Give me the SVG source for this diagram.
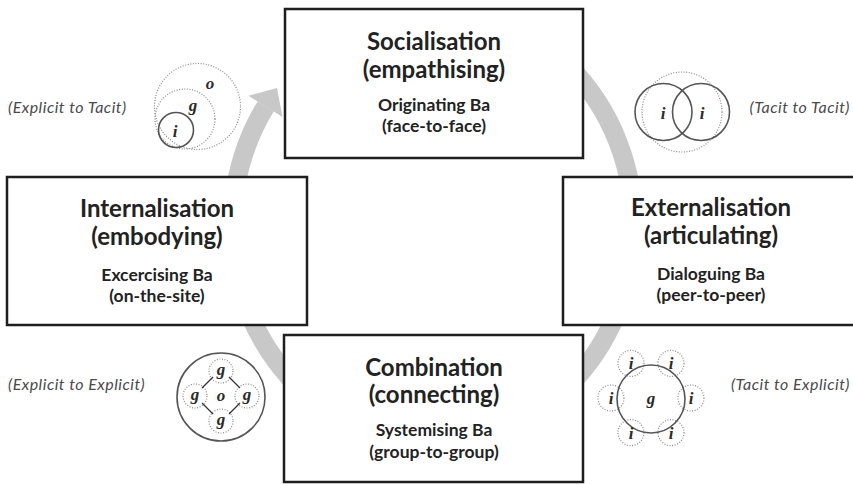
<svg xmlns="http://www.w3.org/2000/svg" width="853" height="484" viewBox="0 0 853 484">
<style>
.box{fill:#fff;stroke:#1e1e1e;stroke-width:2.5}
.t1{font-family:Lato,"Open Sans",sans-serif;font-weight:700;font-size:24px;fill:#222;text-anchor:middle}
.t2{font-family:Lato,"Open Sans",sans-serif;font-weight:700;font-size:17.5px;fill:#222;text-anchor:middle}
.lbl{font-family:Lato,"Open Sans",sans-serif;font-style:italic;font-size:16px;letter-spacing:0.5px;fill:#4a4a4a}
.end{text-anchor:end}
.dot{fill:none;stroke:#8a8a8a;stroke-width:1.2;stroke-dasharray:1 1.6}
.sol{fill:none;stroke:#555;stroke-width:1.6}
.let{font-family:"Liberation Serif",serif;font-style:italic;font-weight:700;font-size:17px;fill:#2a2a2a;text-anchor:middle}
.ln{stroke:#333;stroke-width:1.3}
</style>
<rect width="853" height="484" fill="#fff"/>
<g id="connectors">
<path d="M 501.61 22.28 A 200.6 216.8 0 1 1 265.72 106.34" fill="none" stroke="#c8c8c8" stroke-width="19"/>
<polygon points="248.5,95.8 277,88 282.5,117" fill="#c8c8c8"/>
</g>
<g id="socialisation">
<rect class="box" x="285" y="9" width="298" height="149"/>
<text class="t1" x="434" y="50">Socialisation</text>
<text class="t1" x="434" y="78">(empathising)</text>
<text class="t2" x="434" y="111">Originating Ba</text>
<text class="t2" x="434" y="132">(face-to-face)</text>
</g>
<g id="internalisation">
<rect class="box" x="7" y="177" width="300" height="148"/>
<text class="t1" x="157" y="217">Internalisation</text>
<text class="t1" x="157" y="245">(embodying)</text>
<text class="t2" x="157" y="281">Excercising Ba</text>
<text class="t2" x="157" y="302">(on-the-site)</text>
</g>
<g id="externalisation">
<rect class="box" x="563" y="177" width="296" height="148"/>
<text class="t1" x="711" y="216">Externalisation</text>
<text class="t1" x="711" y="244">(articulating)</text>
<text class="t2" x="711" y="280">Dialoguing Ba</text>
<text class="t2" x="711" y="301">(peer-to-peer)</text>
</g>
<g id="combination">
<rect class="box" x="284" y="335" width="299" height="147"/>
<text class="t1" x="434" y="376">Combination</text>
<text class="t1" x="434" y="403">(connecting)</text>
<text class="t2" x="434" y="436">Systemising Ba</text>
<text class="t2" x="434" y="458">(group-to-group)</text>
</g>
<g id="explicit-to-tacit">
<text class="lbl" x="8" y="113">(Explicit to Tacit)</text>
<circle class="dot" cx="197.5" cy="106.5" r="43"/>
<circle class="dot" cx="185" cy="119" r="30"/>
<circle class="sol" cx="176" cy="130" r="17.5"/>
<text class="let" x="210" y="89">o</text>
<text class="let" x="193" y="111">g</text>
<text class="let" x="175" y="137">i</text>
</g>
<g id="tacit-to-tacit">
<text class="lbl end" x="850" y="113">(Tacit to Tacit)</text>
<circle class="dot" cx="682" cy="112" r="40"/>
<circle class="sol" cx="663.5" cy="112" r="28.5"/>
<circle class="sol" cx="701" cy="112" r="28.5"/>
<text class="let" x="663" y="119">i</text>
<text class="let" x="702" y="119">i</text>
</g>
<g id="explicit-to-explicit">
<text class="lbl" x="8" y="390">(Explicit to Explicit)</text>
<circle class="sol" cx="221" cy="397" r="44"/>
<circle class="dot" cx="221" cy="371" r="12"/>
<circle class="dot" cx="195" cy="396" r="12"/>
<circle class="dot" cx="247" cy="396" r="12"/>
<circle class="dot" cx="221" cy="421" r="12"/>
<line class="ln" x1="213" y1="377" x2="202" y2="388"/>
<line class="ln" x1="229" y1="377" x2="240" y2="388"/>
<line class="ln" x1="202" y1="403" x2="213" y2="414"/>
<line class="ln" x1="240" y1="403" x2="229" y2="414"/>
<text class="let" x="221" y="375">g</text>
<text class="let" x="195" y="400">g</text>
<text class="let" x="247" y="400">g</text>
<text class="let" x="221" y="425">g</text>
<text class="let" x="221" y="401">o</text>
</g>
<g id="tacit-to-explicit">
<text class="lbl end" x="850" y="390">(Tacit to Explicit)</text>
<circle class="dot" cx="691" cy="398" r="13"/>
<circle class="dot" cx="671" cy="432.6" r="13"/>
<circle class="dot" cx="631" cy="432.6" r="13"/>
<circle class="dot" cx="611" cy="398" r="13"/>
<circle class="dot" cx="631" cy="363.4" r="13"/>
<circle class="dot" cx="671" cy="363.4" r="13"/>
<circle class="sol" cx="651" cy="399" r="34"/>
<text class="let" x="651" y="404">g</text>
<text class="let" x="691" y="404">i</text>
<text class="let" x="671" y="439">i</text>
<text class="let" x="631" y="439">i</text>
<text class="let" x="611" y="404">i</text>
<text class="let" x="631" y="369">i</text>
<text class="let" x="671" y="369">i</text>
</g>
</svg>
